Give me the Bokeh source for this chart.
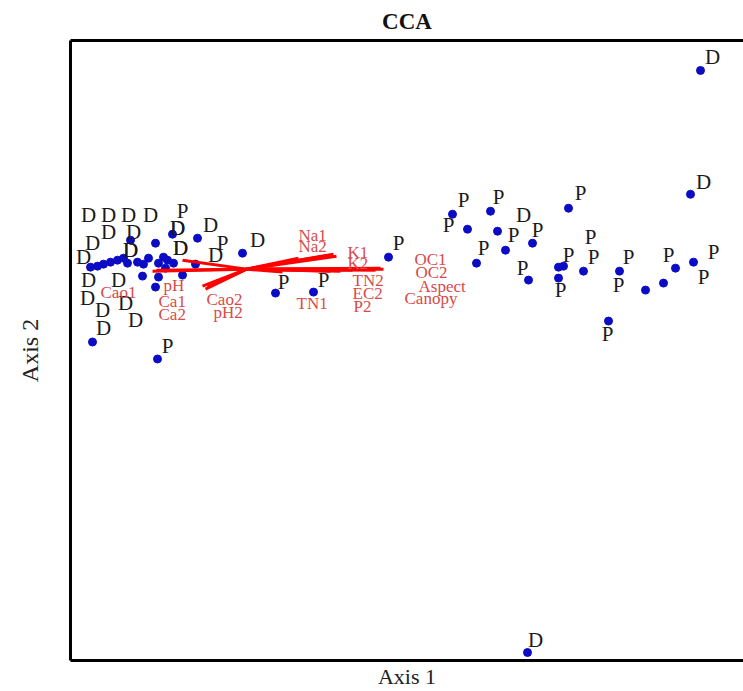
from bokeh.plotting import figure
from bokeh.models import Range1d, LinearAxis, FixedTicker, ColumnDataSource
from bokeh.embed import file_html
from bokeh.resources import INLINE
from bokeh.core.properties import value

# ---- sample scores (CCA axis 1 / axis 2) ----
axis1 = [4.54, 4.44, 2.06, 2.44, 3.22, 2.21, 2.51, 2.86, 2.59, 1.42,
         2.30, 2.82, 3.12, 3.17, 3.37, 3.12, 3.73, 4.29, 4.47, 4.17,
         3.99, 3.62, 2.81, 0.29, 0.67,
         -0.74, -0.49, -1.16, -0.91, -0.04, -1.56, -1.49, -1.43, -1.36, -1.29,
         -1.23, -1.19, -1.09, -1.03, -0.98, -0.88, -0.83, -0.79, -0.73, -0.51,
         -0.81, -0.64, -1.04, -0.88, -0.91, -1.54, -0.89]
axis2 = [1.99, 0.75, 0.55, 0.58, 0.61, 0.40, 0.38, 0.26, 0.19, 0.12,
         0.06, -0.11, 0.02, 0.03, -0.02, -0.09, -0.02, 0.01, 0.07, -0.14,
         -0.21, -0.52, -3.84, -0.24, -0.23,
         0.35, 0.31, 0.29, 0.26, 0.16, 0.02, 0.03, 0.05, 0.07, 0.09,
         0.11, 0.06, 0.07, 0.05, 0.11, 0.06, 0.12, 0.09, 0.06, 0.05,
         0.01, -0.06, -0.07, -0.08, -0.18, -0.73, -0.90]
group = ["D", "D", "P", "P", "P", "P", "D", "P", "P", "P",
         "P", "P", "P", "P", "P", "P", "P", "P", "P", "P",
         "P", "P", "D", "P", "P",
         "P", "D", "D", "D", "D", "D", "D", "D", "D", "D",
         "D", "D", "D", "D", "D", "D", "D", "D", "D", "D",
         "D", "P", "D", "D", "D", "D", "P"]

# label placement (pixel offsets from each point)
label_dx = [12, 13, 11, 8, 12, -19, 26, 5, 8, 10,
            7, -6, 10, 27, 10, 2, 9, -7, 20, 40,
            -27, -1, 8, 8, 10,
            10, 13, -2, -5, 15, -2, -10, 15, -27, -25,
            -15, 3, -4, -55, -40, 22, 14, 10, 7, 20,
            -35, 40, -40, -33, -20, 11, 10]
label_dy = [-13, -12, -14, -14, -15, -4, -16, -13, -15, -14,
            -15, -12, -12, -29, -14, 12, -14, -13, -10, -6,
            -5, 13, -13, -11, -12,
            -23, -13, -25, -28, -13, 13, 32, 16, -5, -17,
            -26, -13, -30, -49, -43, -15, -29, -32, -15, -9,
            -18, -32, 34, 26, 33, -14, -13]

# ---- environmental variables (biplot arrows) ----
env_var = ["Cao1", "Ca1", "Ca2", "pH", "Cao2", "pH2",
           "Na1", "Na2", "K1", "K2", "OC1", "OC2",
           "Aspect", "Canopy", "TN2", "EC2", "P2", "TN1"]
env_ax1 = [-0.94, -0.90, -0.64, -0.41, -0.39, -0.44,
           0.84, 0.52, 0.87, 0.90, 1.37, 1.34,
           1.29, 1.24, 1.06, 0.94, 0.84, 0.36]
env_ax2 = [-0.02, -0.01, 0.09, -0.20, -0.18, -0.17,
           0.14, 0.11, 0.15, 0.13, 0.00, 0.01,
           -0.01, 0.00, -0.01, -0.02, -0.02, -0.03]
env_dx = [-52, 2, -24, -42, -1, 11,
          -32, 0, 14, 11, 31, 35,
          43, 34, 0, 12, 23, 14]
env_dy = [21, 31, 54, -4, 12, 26,
          -20, -12, -2, 7, -10, 4,
          16, 29, 10, 22, 35, 31]

SERIF = value("Liberation Serif")

p = figure(width=743, height=691, output_backend="svg", toolbar_location=None,
           x_range=Range1d(-1.76, 4.97), y_range=Range1d(-3.92, 2.29),
           x_axis_location=None, y_axis_location=None,
           min_border_left=70, min_border_right=0, min_border_top=40,
           min_border_bottom=30, background_fill_color="white",
           border_fill_color="white")
p.title = None
p.grid.visible = False
p.outline_line_color = None

bottom_axis = LinearAxis(axis_label="Axis 1")
left_axis = LinearAxis(axis_label="Axis 2")
top_axis = LinearAxis(axis_label="CCA")
p.add_layout(bottom_axis, "below")
p.add_layout(left_axis, "left")
p.add_layout(top_axis, "above")

for ax in [bottom_axis, left_axis, top_axis]:
    ax.ticker = FixedTicker(ticks=[])
    ax.major_tick_line_color = None
    ax.minor_tick_line_color = None
    ax.major_tick_out = 0
    ax.major_tick_in = 0
    ax.minor_tick_out = 0
    ax.minor_tick_in = 0
    ax.major_label_text_font_size = "0px"
    ax.major_label_standoff = 0
    ax.axis_line_width = 3
    ax.axis_line_color = "black"
    ax.axis_label_text_font = "Liberation Serif"
    ax.axis_label_text_font_style = "normal"
    ax.axis_label_text_color = "#222222"

bottom_axis.axis_label_text_font_size = "22px"
bottom_axis.axis_label_standoff = 3
left_axis.axis_label_text_font_size = "24px"
left_axis.axis_label_standoff = 28
top_axis.axis_label_text_font_size = "23px"
top_axis.axis_label_text_font_style = "bold"
top_axis.axis_label_text_color = "#111111"
top_axis.axis_label_standoff = 7

pts = ColumnDataSource(dict(x=axis1, y=axis2, g=group, dx=label_dx, dy=label_dy))
env = ColumnDataSource(dict(x1=env_ax1, y1=env_ax2, name=env_var,
                            x0=[0.0] * len(env_var), y0=[0.0] * len(env_var),
                            dx=env_dx, dy=env_dy))

p.scatter("x", "y", source=pts, size=8, fill_color="#0c0cc4", line_color="#0c0cc4")
p.segment("x0", "y0", "x1", "y1", source=env, line_color="#ff0000", line_width=3)
p.text("x", "y", text="g", source=pts, x_offset="dx", y_offset="dy",
       text_font=SERIF, text_font_size="21px", text_color="#1a1a1a",
       text_align="center", text_baseline="middle")
p.text("x1", "y1", text="name", source=env, x_offset="dx", y_offset="dy",
       text_font=SERIF, text_font_size="17px", text_color="#d84a4a",
       text_align="left", text_baseline="middle")

open("out.html", "w").write(file_html(p, INLINE))
